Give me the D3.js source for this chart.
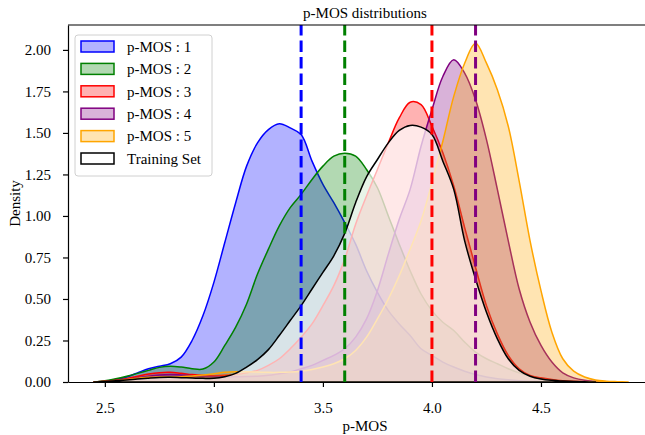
<!DOCTYPE html>
<html>
<head>
<meta charset="utf-8">
<script src="https://cdn.jsdelivr.net/npm/d3@7/dist/d3.min.js"></script>
<style>
  body { margin: 0; background: #fff; }
  text { font-family: "Liberation Serif", "Times New Roman", serif; fill: #000; }
</style>
</head>
<body>
<svg id="chart" width="645" height="435"></svg>
<script>
const grid = [2.45, 2.50, 2.55, 2.60, 2.65, 2.70, 2.75, 2.80, 2.85, 2.90,
              2.95, 3.00, 3.05, 3.10, 3.15, 3.20, 3.25, 3.30, 3.35, 3.40,
              3.45, 3.50, 3.55, 3.60, 3.65, 3.70, 3.75, 3.80, 3.85, 3.90,
              3.95, 4.00, 4.05, 4.10, 4.15, 4.20, 4.25, 4.30, 4.35, 4.40,
              4.45, 4.50, 4.55, 4.60, 4.65, 4.70, 4.75, 4.80, 4.85, 4.90];

const mos1 = [0, 0.005, 0.015, 0.03, 0.055, 0.08, 0.095, 0.11, 0.15, 0.25,
              0.40, 0.60, 0.84, 1.08, 1.30, 1.44, 1.52, 1.555, 1.53, 1.49,
              1.33, 1.19, 1.08, 0.96, 0.83, 0.67, 0.54, 0.43, 0.35, 0.28,
              0.20, 0.16, 0.12, 0.09, 0.065, 0.045, 0.03, 0.02, 0.013, 0.008,
              0.005, 0.003, 0.001, 0, 0, 0, 0, 0, 0, 0];
const mos2 = [0, 0.008, 0.02, 0.035, 0.052, 0.07, 0.088, 0.095, 0.09, 0.08,
              0.078, 0.12, 0.22, 0.33, 0.47, 0.65, 0.80, 0.94, 1.05, 1.13,
              1.22, 1.30, 1.36, 1.378, 1.36, 1.28, 1.17, 1.00, 0.83, 0.67,
              0.53, 0.43, 0.36, 0.31, 0.24, 0.18, 0.14, 0.11, 0.08, 0.055,
              0.035, 0.02, 0.01, 0.005, 0.002, 0, 0, 0, 0, 0];
const mos3 = [0, 0.004, 0.01, 0.02, 0.035, 0.048, 0.056, 0.058, 0.052, 0.045,
              0.04, 0.038, 0.04, 0.045, 0.055, 0.07, 0.10, 0.14, 0.20, 0.27,
              0.35, 0.46, 0.58, 0.74, 0.95, 1.12, 1.28, 1.44, 1.59, 1.685,
              1.67, 1.54, 1.38, 1.18, 0.93, 0.69, 0.46, 0.29, 0.16, 0.08,
              0.04, 0.025, 0.015, 0.008, 0.004, 0.002, 0, 0, 0, 0];
const mos4 = [0, 0.003, 0.008, 0.015, 0.025, 0.035, 0.042, 0.045, 0.042, 0.038,
              0.035, 0.033, 0.032, 0.032, 0.033, 0.035, 0.04, 0.05, 0.06, 0.08,
              0.10, 0.13, 0.16, 0.20, 0.27, 0.38, 0.55, 0.77, 0.98, 1.16,
              1.42, 1.64, 1.84, 1.94, 1.86, 1.70, 1.46, 1.16, 0.85, 0.56,
              0.36, 0.22, 0.12, 0.055, 0.025, 0.01, 0.004, 0, 0, 0];
const mos5 = [0, 0.003, 0.008, 0.015, 0.022, 0.028, 0.03, 0.03, 0.032, 0.036,
              0.042, 0.05, 0.058, 0.062, 0.062, 0.06, 0.058, 0.058, 0.06, 0.065,
              0.075, 0.09, 0.11, 0.14, 0.19, 0.27, 0.38, 0.50, 0.64, 0.80,
              0.97, 1.20, 1.45, 1.72, 1.92, 2.04, 1.92, 1.76, 1.54, 1.21,
              0.85, 0.55, 0.30, 0.14, 0.065, 0.03, 0.012, 0.005, 0.002, 0];
const training = [0, 0.003, 0.007, 0.012, 0.018, 0.023, 0.027, 0.028, 0.026, 0.024,
              0.022, 0.022, 0.032, 0.052, 0.09, 0.135, 0.195, 0.28, 0.37, 0.46,
              0.56, 0.66, 0.76, 0.895, 1.08, 1.235, 1.34, 1.44, 1.515, 1.545,
              1.535, 1.49, 1.33, 1.16, 0.85, 0.62, 0.42, 0.26, 0.14, 0.07,
              0.035, 0.018, 0.01, 0.006, 0.003, 0.001, 0, 0, 0, 0];

const seriesNames = ["p-MOS : 1", "p-MOS : 2", "p-MOS : 3", "p-MOS : 4", "p-MOS : 5", "Training Set"];
const seriesColors = ["#0000ff", "#008000", "#ff0000", "#800080", "#ffa500", "#000000"];
const seriesValues = [mos1, mos2, mos3, mos4, mos5, training];

// dashed reference lines
const markerValues = [3.4, 3.6, 4.0, 4.2];
const markerColors = ["#0000ff", "#008000", "#ff0000", "#800080"];

const xTicks = [2.5, 3.0, 3.5, 4.0, 4.5];
const yTicks = [0, 0.25, 0.5, 0.75, 1.0, 1.25, 1.5, 1.75, 2.0];

const mLeft = 68, mTop = 25, mRight = 662, mBottom = 382;

const svg = d3.select("#chart");

const x = d3.scaleLinear().domain([2.331, 5.055]).range([mLeft, mRight]);
const y = d3.scaleLinear().domain([0, 2.15]).range([mBottom, mTop]);

const plot = svg.append("g");

const area = d3.area()
  .x(d => x(d[0]))
  .y0(y(0))
  .y1(d => Math.min(y(0), y(d[1])))
  .curve(d3.curveCatmullRom.alpha(0.5));

seriesValues.forEach((vals, i) => {
  // keep one zero point on each side of the non-zero stretch
  let first = vals.findIndex(v => v > 0);
  let last = vals.length - 1;
  while (last > 0 && vals[last] === 0) last--;
  const pts = grid.map((g, k) => [g, vals[k]])
    .slice(Math.max(0, first - 1), Math.min(vals.length, last + 2));
  const isTraining = i === seriesValues.length - 1;
  plot.append("path")
    .attr("d", area(pts))
    .attr("fill", isTraining ? "#ffffff" : seriesColors[i])
    .attr("fill-opacity", isTraining ? 0.7 : 0.3)
    .attr("stroke", seriesColors[i])
    .attr("stroke-width", 1.5)
    .attr("stroke-linejoin", "round");
});

plot.selectAll(".marker")
  .data(markerValues)
  .enter()
  .append("line")
  .attr("x1", d => x(d))
  .attr("x2", d => x(d))
  .attr("y1", y(0))
  .attr("y2", mTop)
  .attr("stroke", (d, i) => markerColors[i])
  .attr("stroke-width", 3)
  .attr("stroke-dasharray", "11.5,5");

// axes
const xAxis = svg.append("g")
  .attr("transform", `translate(0,${mBottom})`)
  .call(d3.axisBottom(x).tickValues(xTicks).tickFormat(d3.format(".1f")).tickSize(5).tickSizeOuter(0).tickPadding(15));
const yAxis = svg.append("g")
  .attr("transform", `translate(${mLeft},0)`)
  .call(d3.axisLeft(y).tickValues(yTicks).tickFormat(d3.format(".2f")).tickSize(5).tickSizeOuter(0).tickPadding(12));

[xAxis, yAxis].forEach(a => {
  a.attr("font-family", null).attr("font-size", null);
  a.selectAll("text").style("font-size", "15px");
  a.selectAll("line").attr("stroke", "#000").attr("stroke-width", 1.2);
  a.select(".domain").attr("stroke", "#000").attr("stroke-width", 1.2);
});

svg.append("line")
  .attr("x1", mLeft).attr("x2", mRight)
  .attr("y1", mTop).attr("y2", mTop)
  .attr("stroke", "#000").attr("stroke-width", 1.2);
svg.append("line")
  .attr("x1", mRight).attr("x2", mRight)
  .attr("y1", mTop).attr("y2", mBottom)
  .attr("stroke", "#000").attr("stroke-width", 1.2);

svg.append("text")
  .attr("x", (mLeft + mRight) / 2)
  .attr("y", 18)
  .attr("text-anchor", "middle")
  .style("font-size", "15px")
  .text("p-MOS distributions");

svg.append("text")
  .attr("x", (mLeft + mRight) / 2)
  .attr("y", 431)
  .attr("text-anchor", "middle")
  .style("font-size", "15px")
  .text("p-MOS");

svg.append("text")
  .attr("transform", `translate(15,${(mTop + mBottom) / 2}) rotate(-90)`)
  .attr("text-anchor", "middle")
  .attr("dy", "0.35em")
  .style("font-size", "15px")
  .text("Density");

// legend
const legend = svg.append("g").attr("transform", "translate(75,35)");
legend.append("rect")
  .attr("width", 137).attr("height", 141)
  .attr("rx", 3)
  .attr("fill", "#fff").attr("fill-opacity", 0.8)
  .attr("stroke", "#d0d0d0");

const items = legend.selectAll(".item")
  .data(seriesNames)
  .enter()
  .append("g")
  .attr("transform", (d, i) => `translate(6,${6 + i * 22.4})`);

items.append("rect")
  .attr("width", 33).attr("height", 11)
  .attr("fill", (d, i) => i === 5 ? "#ffffff" : seriesColors[i])
  .attr("fill-opacity", (d, i) => i === 5 ? 0.7 : 0.3)
  .attr("stroke", (d, i) => seriesColors[i])
  .attr("stroke-width", 1.5);

items.append("text")
  .attr("x", 46)
  .attr("y", 5.5)
  .attr("dy", "0.35em")
  .style("font-size", "15px")
  .text(d => d);
</script>
</body>
</html>
